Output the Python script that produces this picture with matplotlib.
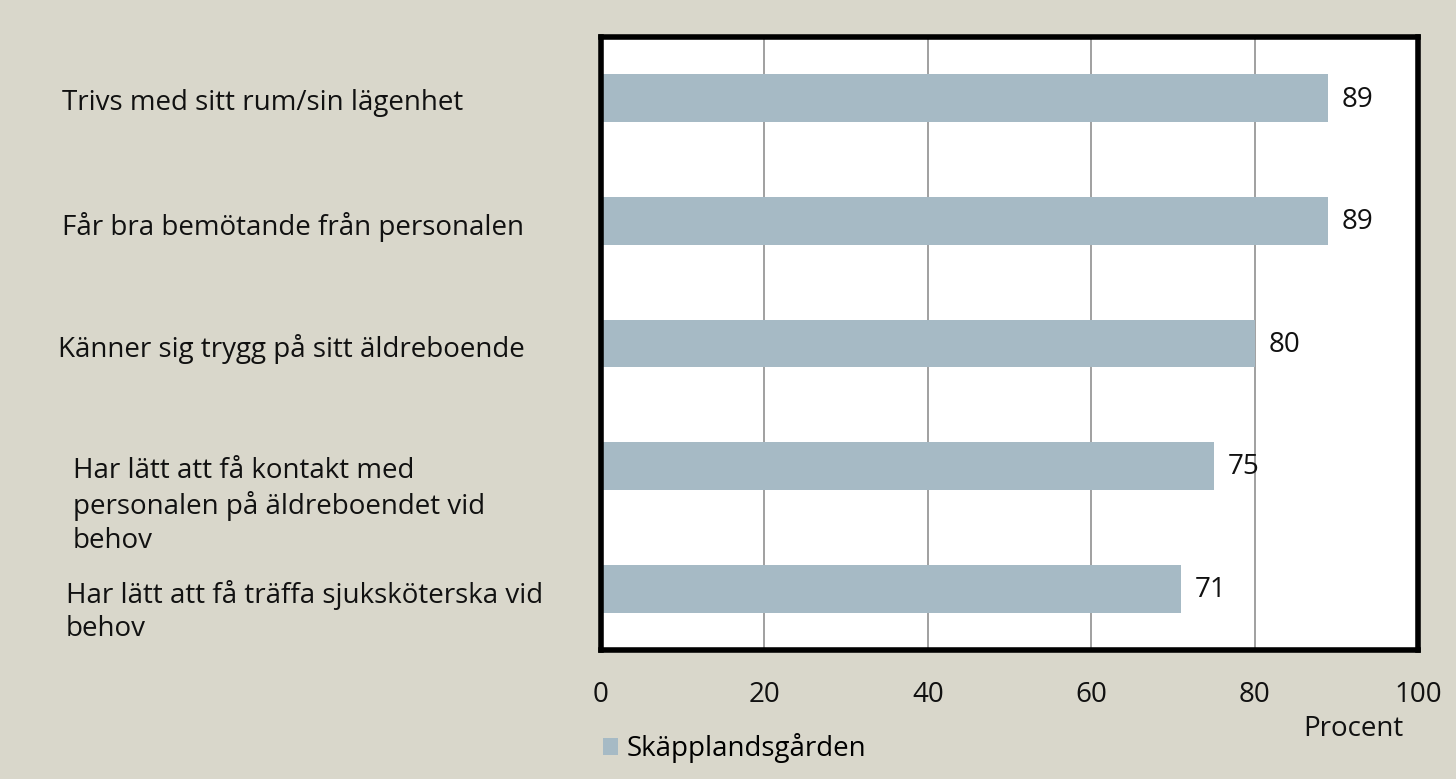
import matplotlib
matplotlib.use("Agg")
import matplotlib.pyplot as plt
from matplotlib.patches import Patch
import matplotlib.transforms as mtransforms

categories = [
    "Trivs med sitt rum/sin lägenhet",
    "Får bra bemötande från personalen",
    "Känner sig trygg på sitt äldreboende",
    "Har lätt att få kontakt med\npersonalen på äldreboendet vid\nbehov",
    "Har lätt att få träffa sjuksköterska vid\nbehov",
]
values = [89, 89, 80, 75, 71]
series_name = "Skäpplandsgården"
xticks = [0, 20, 40, 60, 80, 100]
xlabel = "Procent"

label_x_px = [62, 62, 58, 73, 66]

BG = "#D9D7CB"
BAR = "#A6BAC5"
FONT = ["Open Sans", "DejaVu Sans"]
plt.rcParams["font.family"] = FONT
FS = 20

W, H = 1456, 779
fig = plt.figure(figsize=(W / 100, H / 100), dpi=100, facecolor=BG)
ax = fig.add_axes([601 / W, 1 - 650 / H, (1418 - 601) / W, (650 - 37) / H])
ax.set_facecolor("white")

y = list(range(len(categories)))
ax.barh(y, values, height=0.39, color=BAR, zorder=2)
ax.set_xlim(0, 100)
ax.set_ylim(len(categories) - 0.5, -0.5)
ax.set_xticks(xticks)
ax.set_xticklabels([str(t) for t in xticks], fontsize=FS)
ax.tick_params(axis="x", length=0, pad=22, colors="#111111")
ax.set_yticks([])
ax.grid(axis="x", color="#999999", linewidth=1.3, zorder=1)
for s in ax.spines.values():
    s.set_linewidth(4)
    s.set_color("black")

for yi, v in zip(y, values):
    ax.annotate(str(v), (v, yi), xytext=(10, -1), textcoords="offset points",
                va="center", ha="left", fontsize=FS, color="#111111")

trans = mtransforms.blended_transform_factory(fig.transFigure, ax.transData)
for yi, lab, xp in zip(y, categories, label_x_px):
    ax.text(xp / W, yi - 0.075, lab, transform=trans, ha="left", va="top",
            fontsize=FS, color="#111111", linespacing=1.28)

fig.text(1404 / W, 1 - 729 / H, xlabel, ha="right", va="center", fontsize=FS,
         color="#111111")

handle = Patch(facecolor=BAR, edgecolor="none")
fig.legend([handle], [series_name], loc="center left",
           bbox_to_anchor=(603 / W, 1 - 748 / H), frameon=False, fontsize=FS,
           handlelength=0.55, handleheight=0.55, handletextpad=0.3,
           borderaxespad=0, borderpad=0)

fig.savefig("out.png", dpi=100, facecolor=BG)
